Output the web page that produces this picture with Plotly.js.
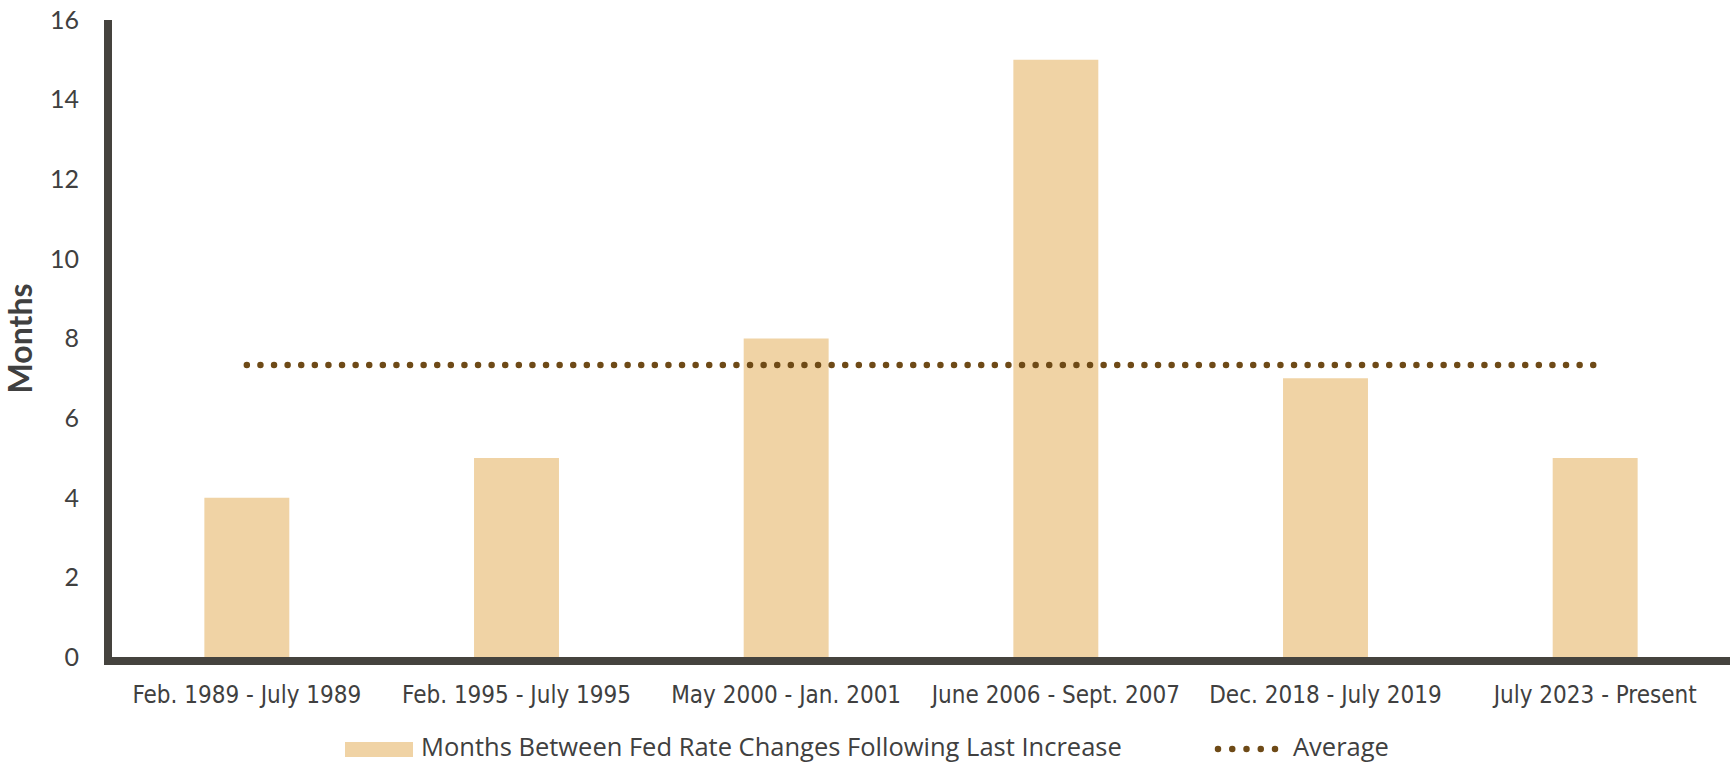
<!DOCTYPE html>
<html>
<head>
<meta charset="utf-8">
<script src="https://cdn.plot.ly/plotly-3.0.1.min.js"></script>
<style>
  html, body { margin: 0; padding: 0; background: #ffffff; }
  #chart { width: 1733px; height: 764px; }
  /* round caps turn the zero-length dashes into dots */
  .js-line, .shapelayer path { stroke-linecap: round !important; }
</style>
</head>
<body>
<div id="chart"></div>
<script>
// Hiking cycles: months from the last Fed increase to the next rate change
const periods = [
  'Feb. 1989 - July 1989',
  'Feb. 1995 - July 1995',
  'May 2000 - Jan. 2001',
  'June 2006 - Sept. 2007',
  'Dec. 2018 - July 2019',
  'July 2023 - Present'
];
const monthsBetween = [4, 5, 8, 15, 7, 5];
const yTicks = [0, 2, 4, 6, 8, 10, 12, 14, 16];

const barName = 'Months Between Fed Rate Changes Following Last Increase';
const avgName = 'Average';

// mean of all cycles, repeated across the categories
const meanMonths = monthsBetween.reduce((a, b) => a + b, 0) / monthsBetween.length;
const averageLine = periods.map(() => meanMonths);

const W = 1733, H = 764;
const M = { l: 112, r: 3, t: 20, b: 107 };
const plotW = W - M.l - M.r, plotH = H - M.t - M.b;
const px = x => (x - M.l) / plotW;
const py = y => (H - M.b - y) / plotH;

const barColor = '#f0d3a5';
const avgColor = '#6e4a17';
const axisColor = '#45433e';
const textColor = '#404040';
const legendFont = { family: '"Open Sans", Lato, sans-serif', size: 25.5, color: textColor };

const traces = [
  {
    type: 'bar',
    name: barName,
    x: periods,
    y: monthsBetween,
    marker: { color: barColor },
    showlegend: false,
    hoverinfo: 'x+y'
  },
  {
    type: 'scatter',
    mode: 'lines',
    name: avgName,
    x: periods,
    y: averageLine,
    line: { color: avgColor, width: 6.5, dash: '0px,13.6px' },
    showlegend: false,
    hoverinfo: 'y'
  }
];

const layout = {
  width: W,
  height: H,
  margin: M,
  paper_bgcolor: '#ffffff',
  plot_bgcolor: '#ffffff',
  bargap: 0.685,
  showlegend: false,
  font: { family: 'Lato, "Open Sans", sans-serif', color: textColor },
  xaxis: {
    type: 'category',
    showline: true,
    linecolor: axisColor,
    linewidth: 8,
    showgrid: false,
    zeroline: false,
    ticks: '',
    ticklabelstandoff: 9,
    tickfont: { family: '"DejaVu Sans Condensed", "Liberation Sans Narrow", sans-serif', size: 24, color: textColor }
  },
  yaxis: {
    range: [0, 16],
    tickvals: yTicks,
    ticktext: yTicks.map(String),
    showline: true,
    linecolor: axisColor,
    linewidth: 8,
    showgrid: false,
    zeroline: false,
    ticks: '',
    ticklabelstandoff: 20,
    tickfont: { family: 'Lato, "Open Sans", sans-serif', size: 25, color: textColor },
    title: {
      text: '<b>Months</b>',
      font: { family: 'Lato, "Open Sans", sans-serif', size: 32, color: textColor },
      standoff: 20
    }
  },
  shapes: [
    {
      type: 'rect', xref: 'paper', yref: 'paper',
      x0: px(345), x1: px(413), y0: py(742), y1: py(757),
      fillcolor: barColor, line: { width: 0 }
    },
    {
      type: 'line', xref: 'paper', yref: 'paper',
      x0: px(1218), x1: px(1276.5), y0: py(749), y1: py(749),
      line: { color: avgColor, width: 6.5, dash: '0px,14.25px' }
    }
  ],
  annotations: [
    {
      xref: 'paper', yref: 'paper', x: px(420), y: py(746),
      xanchor: 'left', yanchor: 'middle', showarrow: false,
      borderpad: 0,
      text: barName,
      font: legendFont
    },
    {
      xref: 'paper', yref: 'paper', x: px(1292), y: py(746),
      xanchor: 'left', yanchor: 'middle', showarrow: false,
      borderpad: 0,
      text: avgName,
      font: legendFont
    }
  ]
};

Plotly.newPlot('chart', traces, layout, { displayModeBar: false, staticPlot: true });
</script>
</body>
</html>
